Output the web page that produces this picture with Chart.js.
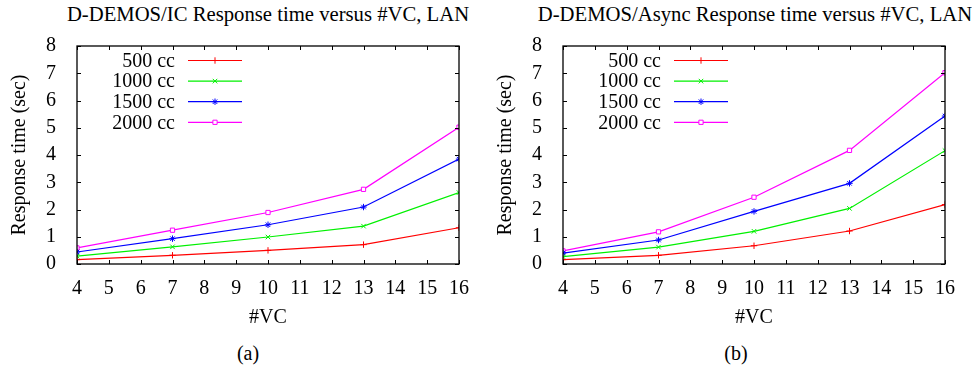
<!DOCTYPE html>
<html lang="en">
<head>
    <meta charset="UTF-8">
    <title>D-DEMOS Response time versus #VC</title>
    <script src="https://cdn.jsdelivr.net/npm/chart.js"></script>
    <style>
        html, body {
            margin: 0;
            width: 972px;
            height: 370px;
            background-color: #ffffff;
            font-family: "Liberation Serif", "Times New Roman", serif;
            overflow: hidden;
        }
        .panel {
            position: absolute;
            top: 0;
            width: 486px;
            height: 370px;
        }
        .chart-title {
            position: absolute;
            top: 3px;
            font-size: 20.7px;
            white-space: nowrap;
            transform: translateX(-50%);
        }
        .caption {
            position: absolute;
            top: 342px;
            font-size: 20px;
            transform: translateX(-50%);
        }
        canvas {
            position: absolute;
            left: 0;
            top: 0;
        }
    </style>
</head>
<body>

<div class="panel" style="left: 0;">
    <div class="chart-title" style="left: 268px;">D-DEMOS/IC Response time versus #VC, LAN</div>
    <canvas id="chartIC" width="486" height="330"></canvas>
    <div class="caption" style="left: 248px;">(a)</div>
</div>

<div class="panel" style="left: 486px;">
    <div class="chart-title" style="left: 269px;">D-DEMOS/Async Response time versus #VC, LAN</div>
    <canvas id="chartAsync" width="486" height="330"></canvas>
    <div class="caption" style="left: 250px;">(b)</div>
</div>

<script>
const vcCounts = [4, 7, 10, 13, 16];
const seriesLabels = ['500 cc', '1000 cc', '1500 cc', '2000 cc'];
const seriesColors = ['#ff0000', '#00f000', '#0000ff', '#ff00ff'];
const seriesMarkers = ['cross', 'crossRot', 'star', 'rect'];

// response time (sec), panel (a)
const ic500 = [0.16, 0.32, 0.50, 0.71, 1.33];
const ic1000 = [0.29, 0.63, 0.99, 1.39, 2.62];
const ic1500 = [0.44, 0.93, 1.44, 2.09, 3.85];
const ic2000 = [0.59, 1.24, 1.89, 2.74, 5.02];

// response time (sec), panel (b)
const async500 = [0.16, 0.32, 0.67, 1.21, 2.18];
const async1000 = [0.27, 0.62, 1.20, 2.04, 4.16];
const async1500 = [0.40, 0.88, 1.93, 2.96, 5.43];
const async2000 = [0.48, 1.18, 2.45, 4.17, 7.02];

const xTicks = [4, 5, 6, 7, 8, 9, 10, 11, 12, 13, 14, 15, 16];
const yTicks = [0, 1, 2, 3, 4, 5, 6, 7, 8];

const serif = '"Liberation Serif", "Times New Roman", serif';

// gnuplot style frame: box + inward ticks on all four sides
const framePlugin = {
    id: 'frame',
    afterDatasetsDraw(chart) {
        const {ctx, chartArea: a, scales} = chart;
        ctx.save();
        ctx.strokeStyle = '#000';
        ctx.lineWidth = 1;
        ctx.beginPath();
        xTicks.forEach(v => {
            const x = Math.round(scales.x.getPixelForValue(v)) + 0.5;
            ctx.moveTo(x, a.bottom); ctx.lineTo(x, a.bottom - 4);
            ctx.moveTo(x, a.top); ctx.lineTo(x, a.top + 4);
        });
        yTicks.forEach(v => {
            const y = Math.round(scales.y.getPixelForValue(v)) + 0.5;
            ctx.moveTo(a.left, y); ctx.lineTo(a.left + 4, y);
            ctx.moveTo(a.right, y); ctx.lineTo(a.right - 4, y);
        });
        ctx.stroke();
        ctx.lineWidth = 1.3;
        ctx.strokeRect(a.left, a.top, a.right - a.left, a.bottom - a.top);
        ctx.restore();
    }
};

// key inside the plot, text right-aligned left of the line sample
const keyPlugin = {
    id: 'key',
    afterDatasetsDraw(chart) {
        const {ctx, chartArea: a} = chart;
        ctx.save();
        ctx.font = '20px ' + serif;
        ctx.textAlign = 'right';
        ctx.textBaseline = 'middle';
        chart.data.datasets.forEach((ds, i) => {
            const y = a.top + 14.5 + i * 20.6;
            ctx.fillStyle = '#000';
            ctx.fillText(ds.label, a.left + 98, y + 1);
            ctx.strokeStyle = ds.borderColor;
            ctx.lineWidth = 1.2;
            ctx.beginPath();
            ctx.moveTo(a.left + 111, y);
            ctx.lineTo(a.left + 165, y);
            ctx.stroke();
            ctx.fillStyle = ds.backgroundColor;
            ctx.lineWidth = 1;
            Chart.helpers.drawPoint(ctx, {
                pointStyle: ds.pointStyle,
                radius: ds.pointRadius,
                borderWidth: 1
            }, a.left + 138, y);
        });
        ctx.restore();
    }
};

function buildDatasets(values) {
    return values.map((vals, i) => ({
        label: seriesLabels[i],
        data: vcCounts.map((vc, j) => ({x: vc, y: vals[j]})),
        borderColor: seriesColors[i],
        backgroundColor: i === 3 ? '#ffffff' : seriesColors[i],
        borderWidth: 1.2,
        pointStyle: seriesMarkers[i],
        pointRadius: i === 3 ? 3 : 3.2,
        pointBorderWidth: 1,
        tension: 0
    }));
}

function drawPanel(canvasId, values) {
    new Chart(document.getElementById(canvasId), {
        type: 'line',
        data: {datasets: buildDatasets(values)},
        options: {
            responsive: false,
            animation: false,
            layout: {padding: {left: 8, top: 46, right: 27, bottom: 0}},
            plugins: {legend: {display: false}, tooltip: {enabled: false}},
            scales: {
                x: {
                    type: 'linear',
                    min: 4,
                    max: 16,
                    afterFit: s => { s.height = 66; },
                    afterBuildTicks: s => { s.ticks = xTicks.map(v => ({value: v})); },
                    grid: {display: false},
                    border: {display: false},
                    ticks: {color: '#000', font: {family: serif, size: 20}, padding: 5, maxRotation: 0},
                    title: {display: true, text: '#VC', color: '#000', font: {family: serif, size: 20}, padding: {top: 0, bottom: 0}}
                },
                y: {
                    min: 0,
                    max: 8,
                    afterFit: s => { s.width = 69; },
                    afterBuildTicks: s => { s.ticks = yTicks.map(v => ({value: v})); },
                    grid: {display: false},
                    border: {display: false},
                    ticks: {color: '#000', font: {family: serif, size: 20}, padding: 13},
                    title: {display: true, text: 'Response time (sec)', color: '#000', font: {family: serif, size: 20}, padding: {top: 0, bottom: 0}}
                }
            }
        },
        plugins: [framePlugin, keyPlugin]
    });
}

function drawAll() {
    Chart.defaults.font.family = serif;
    drawPanel('chartIC', [ic500, ic1000, ic1500, ic2000]);
    drawPanel('chartAsync', [async500, async1000, async1500, async2000]);
}

if (document.fonts && document.fonts.load) {
    document.fonts.load('20px "Liberation Serif"').then(drawAll, drawAll);
} else {
    drawAll();
}
</script>

</body>
</html>
